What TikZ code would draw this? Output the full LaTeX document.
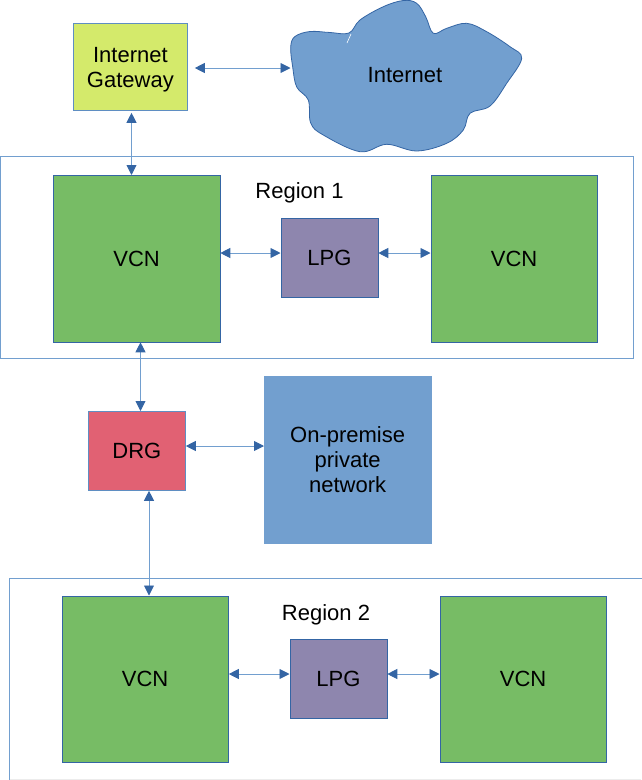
\documentclass[tikz,border=0pt]{standalone}
\usepackage{fontspec}
\setmainfont{Liberation Sans}
\usetikzlibrary{arrows.meta}
\definecolor{edgeblue}{HTML}{3465A4}
\definecolor{lineblue}{HTML}{729FCF}
\definecolor{vcngreen}{HTML}{77BC65}
\definecolor{gwyellow}{HTML}{D4EA6B}
\definecolor{lpgpurple}{HTML}{8E86AE}
\definecolor{drgred}{HTML}{E16173}
\definecolor{netblue}{HTML}{729FCF}
\tikzset{
  x=1pt,y=-1pt,
  lbl/.style={font=\fontsize{22}{25}\selectfont,text=black,align=center,inner sep=0pt},
  boxbase/.style={lbl,draw=edgeblue,line width=0.8pt,anchor=north west,minimum width=#1,minimum height=#1},
  vcnbox/.style={boxbase=166.5pt,fill=vcngreen},
  lpgbox/.style={lbl,draw=edgeblue,line width=0.8pt,anchor=north west,fill=lpgpurple,minimum width=97pt,minimum height=79pt},
  link/.style={draw=lineblue,line width=0.9pt,
    {Triangle[length=10pt,width=10pt,color=edgeblue]}-{Triangle[length=10pt,width=10pt,color=edgeblue]}},
  regionline/.style={draw=lineblue,line width=1pt}
}
\begin{document}
\begin{tikzpicture}
\useasboundingbox (0,0) rectangle (641,780);
% region frames
\path[regionline] (0.5,156.5) rectangle (633,358);
\path[regionline] (646,578) -- (9.5,578) -- (9.5,785);
\path[draw=gray!15,line width=0.8pt] (9.5,779) -- (641,779);
% region labels
\node[lbl] (r1) at (299.5,192.5) {Region 1};
\node[lbl] (r2) at (326,614.5) {Region 2};
% cloud
\path[fill=netblue,draw=edgeblue,line width=0.8pt] plot[smooth cycle,tension=0.6] coordinates {
 (349,33) (330,32.5) (310,31.5) (295,36.5) (290.7,47) (292.7,67) (296.7,87) (308.3,100)
 (310.7,123) (323.3,135) (360,151.7) (386.7,144.3) (416.7,151) (446.7,143.3) (463.3,130)
 (470,113.3) (490,106) (506.7,83.3) (521.7,58.3) (510,46.7) (486.7,31.7) (466.7,23.3)
 (446.7,28.3) (433.3,33.3) (425.7,16.7) (416.7,3.3) (403.3,0.5) (383.3,6.7) (360,20)};
\draw[white,line width=0.6pt] (347,43) -- (351,34);
\node[lbl] (net) at (405,75) {Internet};
\coordinate (netw) at (290.5,68);
% boxes
\node[lbl,draw=lineblue!70!edgeblue,line width=0.8pt,fill=gwyellow,anchor=north west,minimum width=114pt,minimum height=87pt] (gw) at (73,23) {\rule{0pt}{20pt}Internet\\Gateway};
\node[vcnbox] (v1) at (53,175) {VCN};
\node[vcnbox] (v2) at (430.5,175) {VCN};
\node[lpgbox] (l1) at (280.5,218) {LPG};
\node[lbl,draw=lineblue!70!edgeblue,line width=0.8pt,anchor=north west,fill=drgred,minimum width=97pt,minimum height=79pt] (drg) at (88,411) {DRG};
\node[lbl,draw=lineblue,line width=0.8pt,anchor=north west,fill=netblue,minimum width=166.5pt,minimum height=166.5pt] (op) at (264,376) {On-premise\\private\\network};
\node[vcnbox] (v3) at (61.5,595.5) {VCN};
\node[vcnbox] (v4) at (439.5,595.5) {VCN};
\node[lpgbox] (l2) at (289.5,639) {LPG};
% connectors
\path[link] (gw.east |- 0,68) ++(7,0) coordinate (gwe) (gwe) -- (netw);
\path[link] (gw.south -| 131.5,0) ++(0,2) coordinate (gws) (gws) -- (v1.north -| gws);
\path[link] (v1.east |- 0,253) -- (l1.west |- 0,253);
\path[link] (l1.east |- 0,253) -- (v2.west |- 0,253);
\path[link] (v1.south -| 140.5,0) -- (drg.north -| 140.5,0);
\path[link] (drg.east |- 0,446) -- (op.west |- 0,446);
\path[link] (drg.south -| 149,0) -- (v3.north -| 149,0);
\path[link] (v3.east |- 0,674) -- (l2.west |- 0,674);
\path[link] (l2.east |- 0,674) -- (v4.west |- 0,674);
\end{tikzpicture}
\end{document}
